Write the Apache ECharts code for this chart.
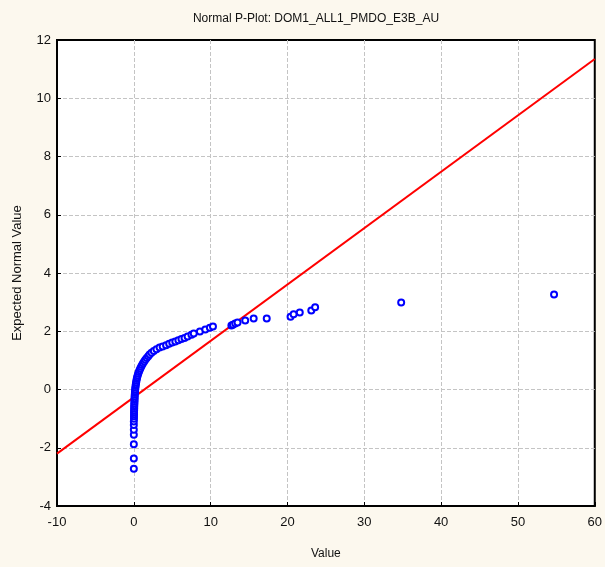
<!DOCTYPE html>
<html><head><meta charset="utf-8">
<script src="https://cdn.jsdelivr.net/npm/echarts@6/dist/echarts.min.js"></script>
<style>html,body{margin:0;padding:0;background:#fcf8ee;}#c{width:605px;height:567px;}</style>
</head><body><div id="c"></div>
<script>
const titleText = 'Normal P-Plot: DOM1_ALL1_PMDO_E3B_AU';
const xAxisName = 'Value';
const yAxisName = 'Expected Normal Value';
const xTicks = [-10, 0, 10, 20, 30, 40, 50, 60];
const yTicks = [-4, -2, 0, 2, 4, 6, 8, 10, 12];
// observed values
const obsValues = [0.0,0.0,0.0,0.0,0.0,0.0,0.0,0.02,0.02,0.03,0.03,0.04,0.05,0.05,0.06,0.07,0.08,0.09,0.1,0.11,0.12,0.14,0.16,0.18,0.2,0.23,0.26,0.3,0.34,0.38,0.43,0.5,0.57,0.65,0.74,0.84,0.95,1.07,1.2,1.35,1.5,1.68,1.88,2.05,2.3,2.6,2.95,3.35,3.75,4.2,4.6,5.0,5.4,5.8,6.2,6.6,7.0,7.5,7.8,8.6,9.3,9.9,10.3,12.7,12.9,13.2,13.5,14.5,15.6,17.3,20.4,20.8,21.6,23.1,23.6,34.8,54.7];
// expected normal values
const expValues = [-2.72,-2.37,-1.88,-1.55,-1.38,-1.22,-1.1,-1.0,-0.92,-0.85,-0.78,-0.72,-0.66,-0.6,-0.54,-0.48,-0.42,-0.36,-0.3,-0.24,-0.18,-0.12,-0.06,0.0,0.06,0.12,0.18,0.24,0.3,0.36,0.42,0.48,0.54,0.6,0.66,0.72,0.78,0.84,0.9,0.96,1.02,1.08,1.14,1.2,1.26,1.32,1.38,1.44,1.48,1.52,1.57,1.61,1.65,1.69,1.73,1.77,1.82,1.88,1.92,1.99,2.06,2.12,2.16,2.2,2.22,2.27,2.3,2.37,2.44,2.44,2.5,2.58,2.64,2.71,2.82,2.99,3.26];
// reference line endpoints
const lineX = [-10, 60];
const lineY = [-2.2, 11.35];

const font = 'Liberation Sans, Arial, sans-serif';
const chart = echarts.init(document.getElementById('c'));
chart.setOption({
  backgroundColor: '#fcf8ee',
  animation: false,
  title: {
    text: titleText, left: 311, top: 8, textAlign: 'center',
    textStyle: {fontFamily: font, fontSize: 12, fontWeight: 'normal', color: '#111'}
  },
  grid: {left: 57, right: 7, top: 40, bottom: 61, show: true, backgroundColor: '#ffffff', borderColor: '#000', borderWidth: 2},
  xAxis: {
    type: 'value', min: xTicks[0], max: xTicks[xTicks.length-1], interval: 10,
    name: xAxisName, nameLocation: 'middle', nameGap: 42,
    nameTextStyle: {fontFamily: font, fontSize: 12, color: '#111'},
    axisLine: {show: true, onZero: false, lineStyle: {color: '#000', width: 2}},
    axisTick: {show: true, inside: true, length: 4, lineStyle: {color: '#000'}},
    axisLabel: {fontFamily: font, fontSize: 13, color: '#111', margin: 10},
    splitLine: {show: true, showMinLine: false, showMaxLine: false, lineStyle: {color: '#c4c4c4', type: 'dashed', width: 1}}
  },
  yAxis: {
    type: 'value', min: yTicks[0], max: yTicks[yTicks.length-1], interval: 2,
    name: yAxisName, nameLocation: 'middle', nameGap: 33, nameRotate: 90,
    nameTextStyle: {fontFamily: font, fontSize: 13, color: '#111'},
    axisLine: {show: true, onZero: false, lineStyle: {color: '#000', width: 2}},
    axisTick: {show: true, inside: true, length: 4, lineStyle: {color: '#000'}},
    axisLabel: {fontFamily: font, fontSize: 13, color: '#111', margin: 6},
    splitLine: {show: true, showMinLine: false, showMaxLine: false, lineStyle: {color: '#c4c4c4', type: 'dashed', width: 1}}
  },
  series: [
    {
      type: 'line', data: lineX.map((x, i) => [x, lineY[i]]), symbol: 'none',
      lineStyle: {color: '#ff0000', width: 2}, clip: true, z: 3
    },
    {
      type: 'scatter', data: obsValues.map((x, i) => [x, expValues[i]]),
      symbol: 'emptyCircle', symbolSize: 6,
      itemStyle: {color: '#0000ff', borderColor: '#0000ff', borderWidth: 2, opacity: 1}, z: 4
    }
  ]
});
</script></body></html>
